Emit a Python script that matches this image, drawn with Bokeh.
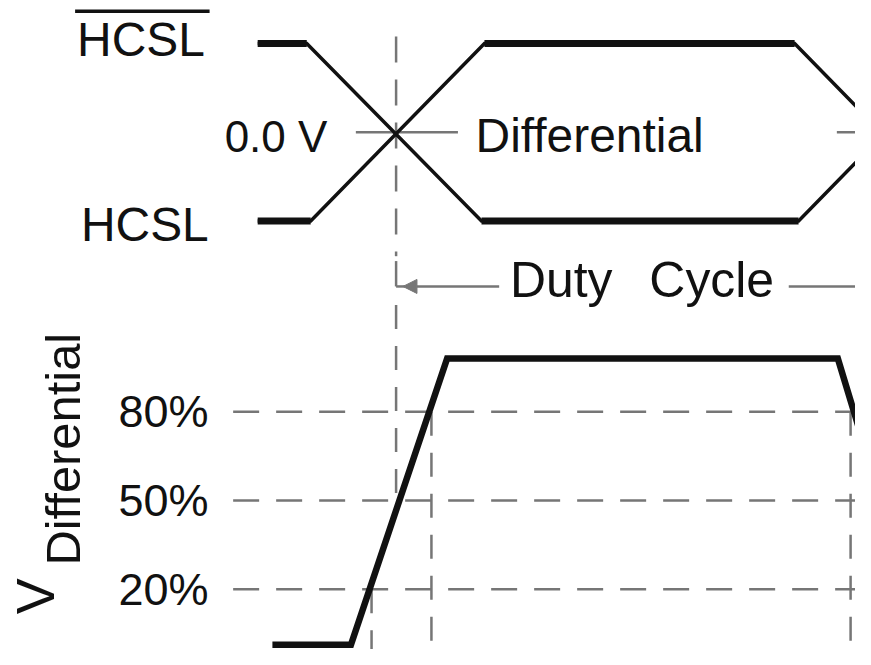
import math
from bokeh.plotting import figure
from bokeh.models import Range1d, Arrow, NormalHead
from bokeh.core.properties import value
from bokeh.embed import file_html
from bokeh.resources import INLINE

# ---- data: waveforms (time axis in arbitrary diagram units) ----
hcsl_bar_t = [262, 312, 490, 813, 990]
hcsl_bar_v = [1, 1, -1, -1, 1]
hcsl_t = [262, 316, 493, 809, 986]
hcsl_v = [-1, -1, 1, 1, -1]
diff_t = [277, 357, 455, 853, 941]
diff_pct = [1.3, 1.3, 98, 98, 1.3]
pct_levels = [20, 50, 80]
pct_labels = ["20%", "50%", "80%"]
t_cross = 403          # 0.0 V crossing
t_20 = 378             # 20% crossing (rise)
t_80 = 439             # 80% crossing (rise)
t_80_fall = 866        # 80% crossing (fall)
signal_labels = ["HCSL", "HCSL"]
label_zero = "0.0 V"
label_diff = "Differential"
label_duty = ["Duty", "Cycle"]
label_v = "V"

S = 0.978  # font scale (figure is 855x649 for 871x665 drawing)
FONT = value("Liberation Sans")
GRAY = "#767676"
INK = "#111111"

p = figure(width=855, height=649, x_range=Range1d(0, 871), y_range=Range1d(665, 0),
           output_backend="svg", toolbar_location=None, min_border=0,
           x_axis_type=None, y_axis_type=None)
p.min_border_left = p.min_border_right = p.min_border_top = p.min_border_bottom = 0
p.grid.visible = False
p.outline_line_color = None
p.background_fill_color = "white"
p.border_fill_color = "white"

# extra scales: signal level (+1/-1) for top, percent for bottom
p.extra_y_ranges = {
    "sig": Range1d(start=(135 - 665) / 91.0, end=135 / 91.0),
    "pct": Range1d(start=-0.33, end=218.93),
}

def fs(px):
    return value(f"{px * S:.1f}px")

# ---- dashed references ----
p.segment(x0=[237] * 3, y0=pct_levels, x1=[880] * 3, y1=pct_levels, y_range_name="pct",
          line_color=GRAY, line_width=2.5, line_dash="26 17")
# vertical at the crossing, broken by the duty-cycle arrow
p.segment(x0=[t_cross], y0=[37], x1=[t_cross], y1=[262], line_color=GRAY, line_width=2.5, line_dash="26 17")
p.segment(x0=[t_cross], y0=[267], x1=[t_cross], y1=[293], line_color=GRAY, line_width=2.5)
p.segment(x0=[t_cross], y0=[312], x1=[t_cross], y1=[511], line_color=GRAY, line_width=2.5, line_dash="24 17")
# verticals at threshold crossings
p.segment(x0=[t_20], y0=[20], x1=[t_20], y1=[-5], y_range_name="pct", line_color=GRAY, line_width=2.5, line_dash="24 17")
p.segment(x0=[t_80, t_80_fall], y0=[80, 80], x1=[t_80, t_80_fall], y1=[-5, -5], y_range_name="pct",
          line_color=GRAY, line_width=2.5, line_dash="24 17")

# 0 V reference tick lines
p.segment(x0=[362, 852], y0=[0, 0], x1=[466, 900], y1=[0, 0], y_range_name="sig",
          line_color=GRAY, line_width=2.5)

# duty-cycle arrow
p.segment(x0=[t_cross], y0=[293], x1=[412], y1=[293], line_color=GRAY, line_width=2.5)
p.add_layout(Arrow(end=NormalHead(size=14, fill_color=GRAY, line_color=GRAY),
                   x_start=508, y_start=293, x_end=410, y_end=293,
                   line_color=GRAY, line_width=2.5))
p.segment(x0=[803], y0=[293], x1=[900], y1=[293], line_color=GRAY, line_width=2.5)

# ---- top waveforms ----
for tt, vv in ((hcsl_bar_t, hcsl_bar_v), (hcsl_t, hcsl_v)):
    p.line(tt, vv, y_range_name="sig", line_color=INK, line_width=3.5, line_join="miter")
    hx0, hy0, hx1, hy1 = [], [], [], []
    for i in range(len(tt) - 1):
        if vv[i] == vv[i + 1]:
            hx0.append(tt[i]); hx1.append(tt[i + 1]); hy0.append(vv[i]); hy1.append(vv[i + 1])
    p.segment(x0=hx0, y0=hy0, x1=hx1, y1=hy1, y_range_name="sig", line_color=INK, line_width=7)

# ---- bottom differential waveform ----
p.line(diff_t, diff_pct, y_range_name="pct", line_color=INK, line_width=6.5, line_join="miter")

# ---- texts ----
p.segment(x0=[76], y0=[11], x1=[213], y1=[11], line_color=INK, line_width=3.5)
p.text(x=[78, 82], y=[40, 229.5], text=signal_labels, text_font=FONT, text_font_size=fs(49),
       text_color=INK, text_align="left", text_baseline="middle")
p.text(x=[333], y=[139.5], text=[label_zero], text_font=FONT, text_font_size=fs(45),
       text_color=INK, text_align="right", text_baseline="middle")
p.text(x=[484], y=[138], text=[label_diff], text_font=FONT, text_font_size=fs(49),
       text_color=INK, text_align="left", text_baseline="middle")
p.text(x=[519, 661], y=[286, 286], text=label_duty, text_font=FONT, text_font_size=fs(51),
       text_color=INK, text_align="left", text_baseline="middle")
p.text(x=[212] * 3, y=pct_levels, text=pct_labels, y_range_name="pct", text_font=FONT,
       text_font_size=fs(46), text_color=INK, text_align="right", text_baseline="middle")
p.text(x=[35], y=[629], text=[label_v], angle=math.pi / 2, text_font=FONT, text_font_size=fs(55),
       text_color=INK, text_align="left", text_baseline="middle")
p.text(x=[64], y=[579], text=[label_diff], angle=math.pi / 2, text_font=FONT, text_font_size=fs(50),
       text_color=INK, text_align="left", text_baseline="middle")

open("out.html", "w").write(file_html(p, INLINE))
